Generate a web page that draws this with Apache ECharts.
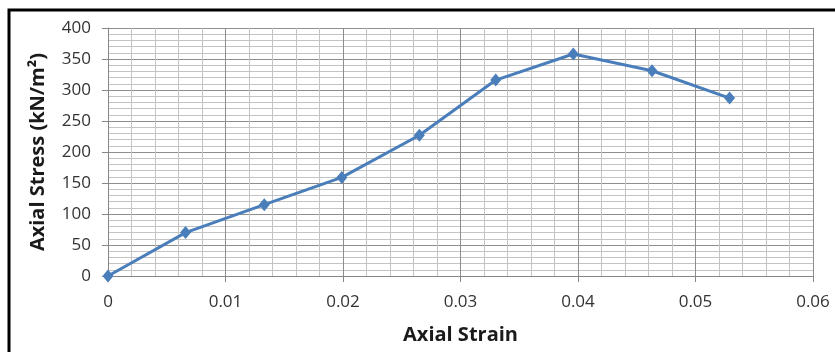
<!DOCTYPE html>
<html>
<head>
<meta charset="utf-8">
<script src="https://cdn.jsdelivr.net/npm/echarts@6/dist/echarts.min.js"></script>
<style>
  html, body { margin: 0; padding: 0; background: #fff; }
  #chart { width: 835px; height: 352px; }
</style>
</head>
<body>
<div id="chart"></div>
<script>
// strain / stress readings
var strain = [0, 0.0066, 0.0133, 0.0199, 0.0265, 0.0330, 0.0396, 0.0463, 0.0529];
var stress = [0, 70, 115, 159, 227, 316, 358, 331, 287];
var xTitle = 'Axial Strain';
var yTitle = 'Axial Stress (kN/m²)';

var points = strain.map(function (s, i) {
  return [s, stress[i]];
});

var myChart = echarts.init(document.getElementById('chart'));

var font = '"Open Sans", sans-serif';

var option = {
  backgroundColor: '#fff',
  animation: false,
  grid: {
    left: 108,
    right: 22,
    top: 28,
    bottom: 76
  },
  graphic: [
    {
      type: 'rect',
      shape: { x: 9, y: 10, width: 860, height: 380 },
      style: { fill: null, stroke: '#000', lineWidth: 3 },
      silent: true
    }
  ],
  xAxis: {
    type: 'value',
    min: 0,
    max: 0.06,
    interval: 0.01,
    name: xTitle,
    nameLocation: 'middle',
    nameGap: 49,
    nameTextStyle: {
      fontFamily: font,
      fontWeight: 'bold',
      fontSize: 20,
      color: '#1a1a1a'
    },
    axisLine: { show: true, lineStyle: { color: '#868686', width: 1 } },
    axisTick: { show: true, length: 6, lineStyle: { color: '#868686' } },
    minorTick: { show: false, splitNumber: 5 },
    axisLabel: {
      margin: 18,
      fontFamily: font,
      fontSize: 17,
      color: '#333',
      formatter: function (v) { return String(+v.toFixed(2)); }
    },
    splitLine: { show: true, lineStyle: { color: '#8e8e8e', width: 1 } },
    minorSplitLine: { show: true, lineStyle: { color: '#c4c4c4', width: 1 } }
  },
  yAxis: {
    type: 'value',
    min: 0,
    max: 400,
    interval: 50,
    name: yTitle,
    nameLocation: 'middle',
    nameGap: 60,
    nameTextStyle: {
      fontFamily: font,
      fontWeight: 'bold',
      fontSize: 20,
      color: '#1a1a1a'
    },
    axisLine: { show: true, lineStyle: { color: '#868686', width: 1 } },
    axisTick: { show: true, length: 6, lineStyle: { color: '#868686' } },
    minorTick: { show: false, splitNumber: 5 },
    axisLabel: {
      margin: 17,
      fontFamily: font,
      fontSize: 17,
      color: '#333'
    },
    splitLine: { show: true, lineStyle: { color: '#8e8e8e', width: 1 } },
    minorSplitLine: { show: true, lineStyle: { color: '#c4c4c4', width: 1 } }
  },
  series: [
    {
      type: 'line',
      data: points,
      symbol: 'diamond',
      symbolSize: [11, 13],
      showAllSymbol: true,
      itemStyle: { color: '#4a7ebb' },
      lineStyle: { color: '#4a7ebb', width: 3 }
    }
  ]
};

myChart.setOption(option);
window.addEventListener('resize', function () {
  myChart.resize();
});
</script>
</body>
</html>
